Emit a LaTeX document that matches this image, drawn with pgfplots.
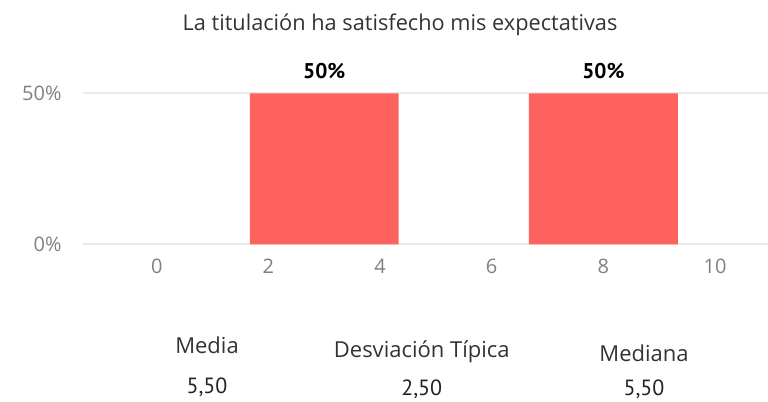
\documentclass[border=0pt]{standalone}
\usepackage{pgfplots}
\pgfplotsset{compat=1.18}
\usepackage{fontspec}
\setmainfont{Open Sans}
\newfontfamily\numfont{PT Sans}
\definecolor{barred}{HTML}{FD625E}
\definecolor{gridgray}{HTML}{E9E9E9}
\definecolor{ticktext}{HTML}{808080}
\definecolor{titletext}{HTML}{333333}
\definecolor{cardtext}{HTML}{333333}
\definecolor{valtext}{HTML}{252423}
\begin{document}
\begin{tikzpicture}
\useasboundingbox (0,0) rectangle (576pt,301.5pt);
\begin{axis}[
  at={(62.5pt,118.3pt)}, anchor=south west,
  scale only axis, width=513.5pt, height=113.25pt,
  xmin=-1.315, xmax=10.949, ymin=0, ymax=50,
  clip=false,
  /pgf/number format/assume math mode=true,
  axis line style={draw=none},
  major tick length=0pt,
  xtick={0,2,4,6,8,10},
  ytick={0,50},
  yticklabel={\pgfmathprintnumber{\tick}\%},
  ymajorgrids,
  grid style={gridgray, line width=1.5pt},
  xticklabel style={font=\fontsize{15}{18}\selectfont, text=ticktext, anchor=base, inner sep=0pt, yshift=-21.75pt},
  yticklabel style={font=\fontsize{15}{18}\selectfont, text=ticktext, anchor=base east, inner sep=0pt, xshift=-16.2pt, yshift=-5.55pt},
]
\addplot[ybar, bar width=2.667, fill=barred, draw=none,
  nodes near coords={\pgfmathprintnumber[assume math mode=true]{\pgfplotspointmeta}\%},
  every node near coord/.append style={font=\numfont\bfseries\fontsize{16}{19}\selectfont, text=black, anchor=base, inner sep=0pt, yshift=11.25pt}]
  coordinates {(3,50) (8,50)};
\end{axis}
\node[anchor=base, inner sep=0pt, text=titletext, font=\fontsize{16.3}{19}\selectfont] at (300pt,278.5pt) {La titulación ha satisfecho mis expectativas};
\node[anchor=base, inner sep=0pt, text=cardtext, font=\fontsize{16.5}{20}\selectfont] at (155.25pt,36.5pt) {Media};
\node[anchor=base, inner sep=0pt, text=valtext, font=\numfont\fontsize{16.5}{20}\selectfont] at (155.25pt,6.5pt) {5,50};
\node[anchor=base, inner sep=0pt, text=cardtext, font=\fontsize{16.5}{20}\selectfont] at (316.3pt,33pt) {Desviación Típica};
\node[anchor=base, inner sep=0pt, text=valtext, font=\numfont\fontsize{16.5}{20}\selectfont] at (316.3pt,4.5pt) {2,50};
\node[anchor=base, inner sep=0pt, text=cardtext, font=\fontsize{16.5}{20}\selectfont] at (483pt,30.2pt) {Mediana};
\node[anchor=base, inner sep=0pt, text=valtext, font=\numfont\fontsize{16.5}{20}\selectfont] at (483pt,4.5pt) {5,50};
\end{tikzpicture}
\end{document}
